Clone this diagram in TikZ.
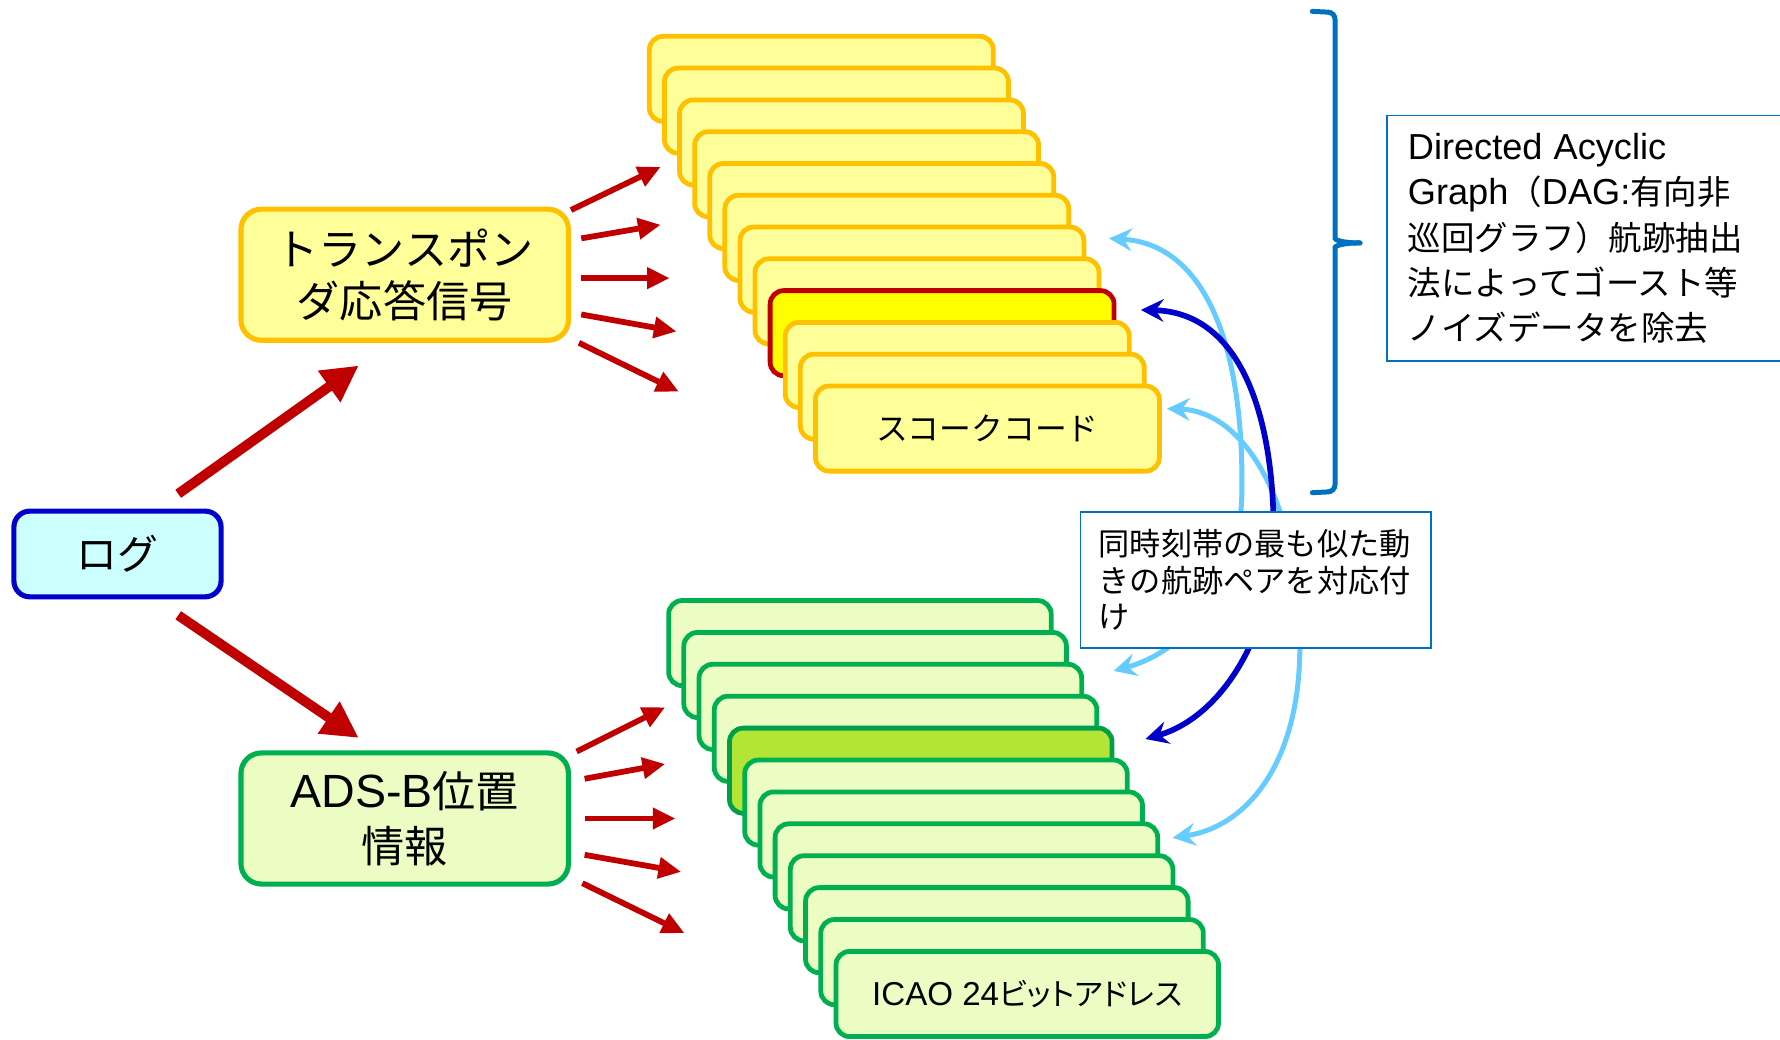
\documentclass[tikz,border=0pt]{standalone}
\usepackage{fontspec}
\setmainfont{Liberation Sans}[Scale=1.08]
\newfontfamily\jp{Noto Sans CJK JP}
\newfontfamily\jpp{Noto Sans CJK JP}[RawFeature=+palt]
\usetikzlibrary{arrows.meta}
\definecolor{cardY}{HTML}{FFFF99}
\definecolor{edgeY}{HTML}{FFC000}
\definecolor{hiY}{HTML}{FFFF00}
\definecolor{hiYedge}{HTML}{C00000}
\definecolor{cardG}{HTML}{EBFDC3}
\definecolor{edgeG}{HTML}{00B050}
\definecolor{hiG}{HTML}{B3E536}
\definecolor{hiGedge}{HTML}{00A04A}
\definecolor{logfill}{HTML}{CCFFFF}
\definecolor{logedge}{HTML}{0000CC}
\definecolor{redarrow}{HTML}{C00000}
\definecolor{lightblue}{HTML}{66CCFF}
\definecolor{darkblue}{HTML}{0000CC}
\definecolor{boxblue}{HTML}{0070C0}
\begin{document}
\begin{tikzpicture}[x=1pt,y=-1pt,
  card/.style={rounded corners=12pt, line width=4.2pt, minimum height=75pt, inner sep=0pt},
  ycard/.style={card, draw=edgeY, fill=cardY, minimum width=303pt},
  ycardhi/.style={card, draw=hiYedge, fill=hiY, minimum width=303pt},
  gcard/.style={card, draw=edgeG, fill=cardG, minimum width=337pt},
  gcardhi/.style={card, draw=hiGedge, fill=hiG, minimum width=337pt},
  mainbox/.style={rounded corners=18pt, line width=4.5pt, minimum width=288.5pt, minimum height=115.5pt, inner sep=0pt, align=center},
  bigarrow/.style={draw=redarrow, line width=8.7pt, -{Triangle[length=32pt,width=32pt]}},
  smallarrow/.style={draw=redarrow, line width=5.1pt, -{Triangle[length=20pt,width=18pt]}},
  lbarc/.style={draw=lightblue, line width=4.4pt, {Stealth[length=20pt,width=20pt,inset=7pt]}-{Stealth[length=20pt,width=20pt,inset=7pt]}},
  dbarc/.style={draw=darkblue, line width=5pt, {Stealth[length=20pt,width=20pt,inset=7pt]}-{Stealth[length=20pt,width=20pt,inset=7pt]}},
  bracestyle/.style={draw=boxblue, line width=4.4pt, line cap=round},
  textbox/.style={align=left, inner ysep=0pt}
]
\useasboundingbox (0,0) rectangle (1568,916);
\fill[white] (0,0) rectangle (1568,916);

% yellow stack
\foreach \i in {0,...,7} {\node[ycard] (yc\i) at ({723.5+13.3*\i},{69.5+28*\i}) {};}
\node[ycardhi] (yc8) at ({723.5+13.3*8},{69.5+28*8}) {};
\node[ycard] (yc9) at ({723.5+13.3*9},{69.5+28*9}) {};
\node[ycard] (yc10) at ({723.5+13.3*10},{69.5+28*10}) {};
\node[ycard, font=\jp\fontsize{28}{32}\selectfont] (yc11) at ({723.5+13.3*11},{69.5+28*11}) {スコークコード};

% green stack
\foreach \i in {0,...,3} {\node[gcard] (gc\i) at ({757.5+13.4*\i},{566.5+28.1*\i}) {};}
\node[gcardhi] (gc4) at ({757.5+13.4*4},{566.5+28.1*4}) {};
\foreach \i in {5,...,10} {\node[gcard] (gc\i) at ({757.5+13.4*\i},{566.5+28.1*\i}) {};}
\node[gcard, font=\jpp\fontsize{27}{32}\selectfont] (gc11) at ({757.5+13.4*11},{566.5+28.1*11}) {{\rmfamily ICAO 24}ビットアドレス};

% main boxes
\node[mainbox, draw=logedge, fill=logfill, minimum width=182.5pt, minimum height=75.5pt, rounded corners=14pt, font=\jp\fontsize{36}{40}\selectfont] (log) at (103.5,488) {ログ};
\node[mainbox, draw=edgeY, fill=cardY, font=\jp\fontsize{38}{46}\selectfont] (trans) at (356.5,242) {トランスポン\\ダ応答信号};
\node[mainbox, draw=edgeG, fill=cardG, font=\jp\fontsize{38}{48}\selectfont] (ads) at (356.5,721) {{\rmfamily ADS-B}位置\\情報};

% big arrows
\coordinate (b1s) at (157,435); \coordinate (b1e) at (316,322);
\coordinate (b2s) at (157,542); \coordinate (b2e) at (316,650);
\draw[bigarrow] (b1s) -- (b1e);
\draw[bigarrow] (b2s) -- (b2e);

% small arrows
\foreach \sx/\sy/\ex/\ey [count=\k] in {503/185/582/147, 512/210/582/198, 512/245/590/245, 512/277/596/292, 510/302/598/345}
  {\coordinate (ts\k) at (\sx,\sy); \coordinate (te\k) at (\ex,\ey); \draw[smallarrow] (ts\k) -- (te\k);}
\foreach \sx/\sy/\ex/\ey [count=\k] in {508/662/586/623, 515/686/586/673, 515/721/595/721, 515/753/600/768, 513/778/603/822}
  {\coordinate (as\k) at (\sx,\sy); \coordinate (ae\k) at (\ex,\ey); \draw[smallarrow] (as\k) -- (ae\k);}

% matching arcs
\coordinate (lb1a) at (977,210); \coordinate (lb1m) at (1094,430); \coordinate (lb1b) at (981,591);
\coordinate (db1) at (1005,273); \coordinate (dbm) at (1122,470); \coordinate (db2) at (1009,651);
\coordinate (lb2a) at (1028,360); \coordinate (lb2m) at (1145,570); \coordinate (lb2b) at (1033,738);
\draw[lbarc] (lb1a) .. controls (1060,215) and (1095,300) .. (lb1m) .. controls (1094,510) and (1050,572) .. (lb1b);
\draw[lbarc] (lb2a) .. controls (1095,362) and (1145,440) .. (lb2m) .. controls (1145,670) and (1100,728) .. (lb2b);
\draw[dbarc] (db1) .. controls (1090,275) and (1122,360) .. (dbm) .. controls (1122,560) and (1075,632) .. (db2);

% correspondence box
\node[textbox, draw=boxblue, line width=1.5pt, fill=white, text width=277pt, inner xsep=16pt, minimum height=120pt, anchor=north west, font=\jp\fontsize{27.5}{32.5}\selectfont] (corr) at (951,450) {同時刻帯の最も似た動\\きの航跡ペアを対応付\\け};

% DAG box
\node[textbox, text width=310pt, inner xsep=18pt, minimum height=216pt, anchor=west, font=\jp\fontsize{29.5}{40}\selectfont] (dag) at (1222,210) {{\rmfamily Directed Acyclic}\\{\rmfamily Graph}（{\rmfamily DAG:}有向非\\巡回グラフ）航跡抽出\\法によってゴースト等\\ノイズデータを除去};
\draw[draw=boxblue, line width=1.5pt] (dag.north east) -- (dag.north west) -- (dag.south west) -- (dag.south east);

% brace
\coordinate (brtop) at (1156,10); \coordinate (brtip) at (1198,214); \coordinate (brbot) at (1156,434);
\draw[bracestyle, rounded corners=6pt] (brtop) -- (1176,11) -- (1176,204) [sharp corners] .. controls (1176,211) and (1181,214) .. (brtip);
\draw[bracestyle, rounded corners=6pt] (brtip) .. controls (1181,214) and (1176,217) .. (1176,224) [rounded corners=6pt] -- (1176,433) -- (brbot);
\end{tikzpicture}
\end{document}
